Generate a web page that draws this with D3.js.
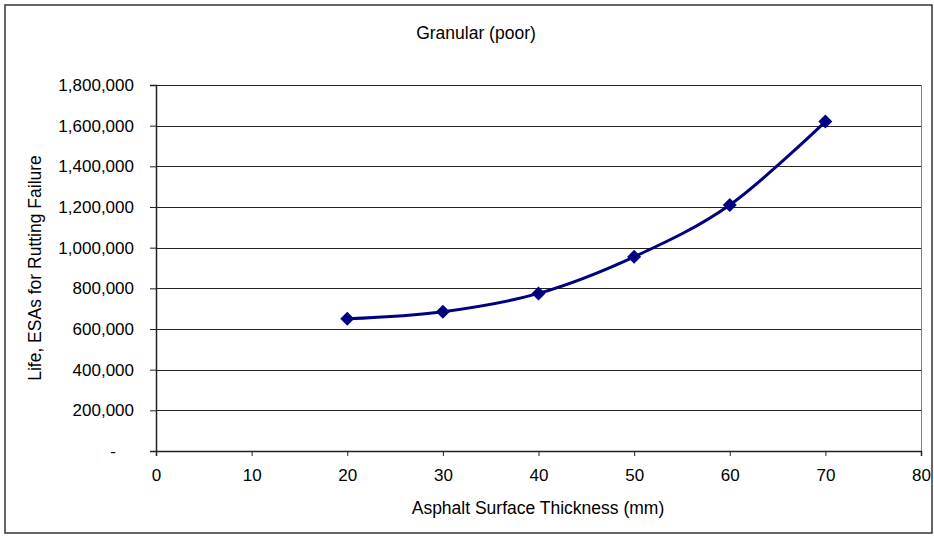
<!DOCTYPE html>
<html><head><meta charset="utf-8">
<script src="https://cdn.jsdelivr.net/npm/d3@7"></script>
<style>body{margin:0;background:#fff}svg{display:block;font-family:"Liberation Sans",Arial,sans-serif}</style>
</head><body><svg id="c" width="934" height="536"></svg>
<script>
const thickness = [20, 30, 40, 50, 60, 70];
const life = [650000, 685000, 775000, 955000, 1210000, 1620000];
const xTicks = [0, 10, 20, 30, 40, 50, 60, 70, 80];
const yTicks = [0, 200000, 400000, 600000, 800000, 1000000, 1200000, 1400000, 1600000, 1800000];
const title = "Granular (poor)";
const xTitle = "Asphalt Surface Thickness (mm)";
const yTitle = "Life, ESAs for Rutting Failure";

const svg = d3.select("#c");
const L = 156, R = 921, T = 85, B = 451;
const x = d3.scaleLinear().domain([0, 80]).range([L, R]);
const y = d3.scaleLinear().domain([0, 1800000]).range([B, T]);

svg.append("rect").attr("x", 5).attr("y", 5).attr("width", 927).attr("height", 528)
  .attr("fill", "#fff").attr("stroke", "#333").attr("stroke-width", 1.5);

// gridlines
svg.append("g").selectAll("line").data(yTicks.slice(1)).join("line")
  .attr("x1", L).attr("x2", R).attr("y1", d => Math.round(y(d)) + 0.5).attr("y2", d => Math.round(y(d)) + 0.5)
  .attr("stroke", "#222").attr("stroke-width", 1);
// right border
svg.append("line").attr("x1", R + 0.5).attr("x2", R + 0.5).attr("y1", T).attr("y2", B)
  .attr("stroke", "#808080");

const fmt = d => d === 0 ? "-" : d3.format(",")(d);
const yAxis = svg.append("g").attr("transform", `translate(${L},0)`)
  .call(d3.axisLeft(y).tickValues(yTicks).tickFormat(fmt).tickSize(6).tickPadding(16));
yAxis.selectAll(".tick text").filter(d => d === 0).attr("text-anchor", "middle").attr("x", -43);
const xAxis = svg.append("g").attr("transform", `translate(0,${B})`)
  .call(d3.axisBottom(x).tickValues(xTicks).tickSize(5).tickPadding(13));
[yAxis, xAxis].forEach(g => {
  g.select(".domain").attr("stroke", "#222").attr("stroke-width", 1.5);
  g.selectAll(".tick line").attr("stroke", "#222");
  g.selectAll("text").attr("font-size", 17).attr("fill", "#000").attr("font-family", "Liberation Sans, Arial, sans-serif");
});

const pts = thickness.map((t, i) => [x(t), y(life[i])]);
svg.append("path").attr("d", d3.line().curve(d3.curveCatmullRom.alpha(0))(pts))
  .attr("fill", "none").attr("stroke", "#000080").attr("stroke-width", 3);
svg.append("g").selectAll("path").data(pts).join("path")
  .attr("transform", d => `translate(${d[0]},${d[1]})`)
  .attr("d", "M0,-7L7,0L0,7L-7,0Z").attr("fill", "#000080");

svg.append("text").attr("x", 476).attr("y", 39).attr("text-anchor", "middle")
  .attr("font-size", 17.5).text(title);
svg.append("text").attr("x", 538).attr("y", 514).attr("text-anchor", "middle")
  .attr("font-size", 17.5).text(xTitle);
svg.append("text").attr("transform", "translate(41,268) rotate(-90)").attr("text-anchor", "middle")
  .attr("font-size", 17.5).text(yTitle);
</script></body></html>
